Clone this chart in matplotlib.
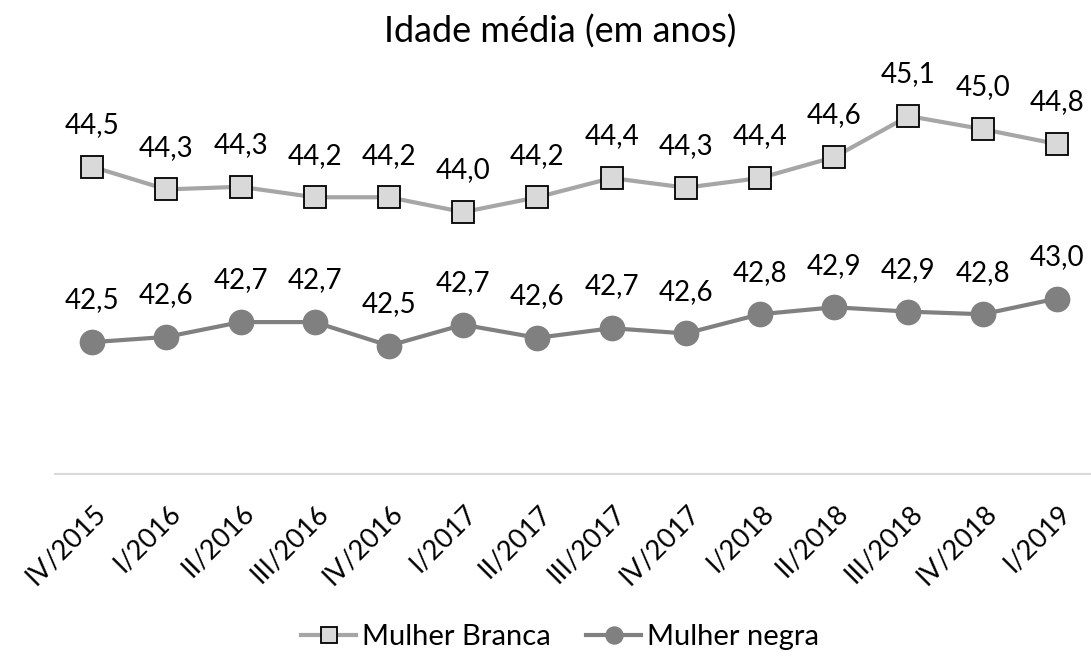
import matplotlib.pyplot as plt
import matplotlib.transforms as mtransforms

plt.rcParams['font.family'] = ['Lato', 'DejaVu Sans']

trimestres = ['IV/2015', 'I/2016', 'II/2016', 'III/2016', 'IV/2016', 'I/2017', 'II/2017',
              'III/2017', 'IV/2017', 'I/2018', 'II/2018', 'III/2018', 'IV/2018', 'I/2019']
mulher_branca = [44.52, 44.26, 44.29, 44.17, 44.17, 44.00, 44.17,
                 44.39, 44.28, 44.39, 44.63, 45.10, 44.95, 44.78]
mulher_negra = [42.51, 42.57, 42.74, 42.74, 42.47, 42.71, 42.56,
                42.67, 42.61, 42.83, 42.91, 42.86, 42.83, 43.01]

W, H = 1091, 656
fig = plt.figure(figsize=(W / 100, H / 100), dpi=100)
# eixo: 41,0 em y=474 px, 87,3 px por ano
ax = fig.add_axes([55 / W, 1 - 474 / H, (1094 - 55) / W, (4.5 * 87.3) / H])

x = list(range(len(trimestres)))
ax.plot(x, mulher_branca, color='#A6A6A6', lw=3.0, marker='s', ms=15.5,
        mfc='#D9D9D9', mec='black', mew=1.3, label='Mulher Branca', zorder=3)
ax.plot(x, mulher_negra, color='#808080', lw=3.0, marker='o', ms=17.5,
        mfc='#808080', mec='#808080', label='Mulher negra', zorder=3)

for serie in (mulher_branca, mulher_negra):
    for i, v in enumerate(serie):
        ax.annotate(f'{v:.1f}'.replace('.', ','), (i, v), xytext=(0, 30),
                    textcoords='offset points', ha='center', va='center', fontsize=20)

ax.set_xlim(-0.5, len(trimestres) - 0.5)
ax.set_ylim(41.0, 45.5)
ax.set_xticks(x)
ax.set_xticklabels(trimestres, rotation=45, ha='right', rotation_mode='anchor', fontsize=19.5)
ax.tick_params(axis='x', length=0, pad=19)
offset = mtransforms.ScaledTranslation(1 / 100, 0, fig.dpi_scale_trans)
for lbl in ax.get_xticklabels():
    lbl.set_transform(lbl.get_transform() + offset)
ax.set_yticks([])
for s in ('top', 'right', 'left'):
    ax.spines[s].set_visible(False)
ax.spines['bottom'].set_color('#D9D9D9')
ax.spines['bottom'].set_linewidth(1.5)

fig.text(560 / W, 1 - 32 / H, 'Idade média (em anos)', ha='center', va='center', fontsize=26)
fig.legend(loc='center', bbox_to_anchor=(560 / W, 1 - 637 / H), ncol=2, frameon=False,
           fontsize=21, handlelength=1.9, columnspacing=1.2, handletextpad=0.2,
           markerscale=0.7)

fig.savefig('out.png', dpi=100)
